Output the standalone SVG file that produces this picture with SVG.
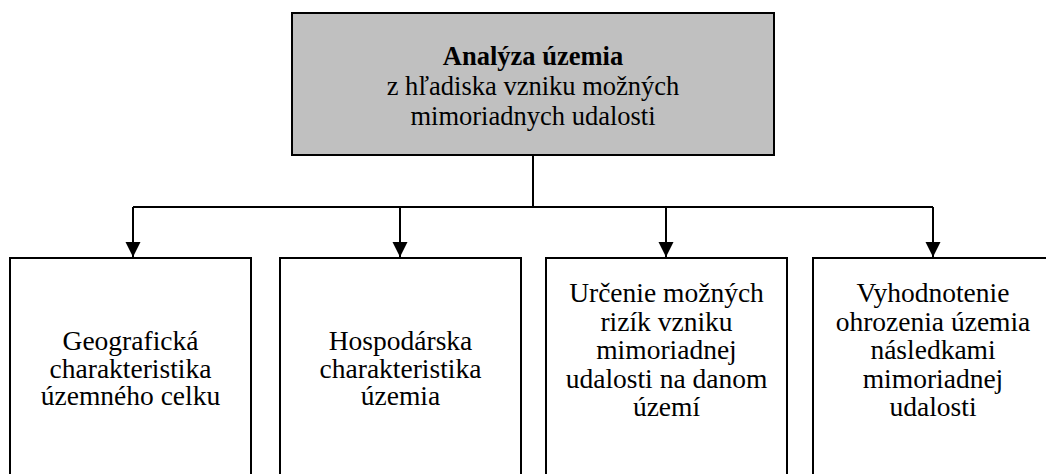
<svg xmlns="http://www.w3.org/2000/svg" width="1046" height="474" viewBox="0 0 1046 474">
<style>
.box{fill:#ffffff;stroke:#000000;stroke-width:2}
.top{fill:#c0c0c0;stroke:#000000;stroke-width:2}
.t{font-family:"Liberation Serif","Times New Roman",serif;font-size:27.5px;fill:#000000;text-anchor:middle}
.tt{font-family:"Liberation Serif","Times New Roman",serif;font-size:26.5px;fill:#000000;text-anchor:middle}
.b{font-weight:bold}
.ln{fill:none;stroke:#000000;stroke-width:2}
</style>
<defs>
<marker id="arr" markerWidth="15" markerHeight="16" refX="15" refY="7.5" orient="auto" markerUnits="userSpaceOnUse" viewBox="0 0 15 15">
<path d="M0,0 L15,7.5 L0,15 Z" fill="#000000"/>
</marker>
</defs>
<rect width="1046" height="474" fill="#ffffff"/>
<g id="connectors">
<path class="ln" d="M533,155 V207"/>
<path class="ln" d="M133,207 H933"/>
<path class="ln" d="M133,207 V257" marker-end="url(#arr)"/>
<path class="ln" d="M400,207 V257" marker-end="url(#arr)"/>
<path class="ln" d="M666,207 V257" marker-end="url(#arr)"/>
<path class="ln" d="M933,207 V257" marker-end="url(#arr)"/>
</g>
<g id="node-root">
<rect class="top" x="292" y="13" width="482" height="142"/>
<text class="tt b" x="533" y="64.5">Analýza územia</text>
<text class="tt" x="533" y="94.5">z hľadiska vzniku možných</text>
<text class="tt" x="533" y="124.5">mimoriadnych udalosti</text>
</g>
<g id="node-geo">
<rect class="box" x="10" y="258" width="241" height="240"/>
<text class="t" x="130.5" y="350">Geografická</text>
<text class="t" x="130.5" y="377.5">charakteristika</text>
<text class="t" x="130.5" y="405">územného celku</text>
</g>
<g id="node-hosp">
<rect class="box" x="280" y="258" width="241" height="240"/>
<text class="t" x="400.5" y="350">Hospodárska</text>
<text class="t" x="400.5" y="377.5">charakteristika</text>
<text class="t" x="400.5" y="405">územia</text>
</g>
<g id="node-riziko">
<rect class="box" x="546" y="258" width="241" height="240"/>
<text class="t" x="666.5" y="302">Určenie možných</text>
<text class="t" x="666.5" y="330.5">rizík vzniku</text>
<text class="t" x="666.5" y="359">mimoriadnej</text>
<text class="t" x="666.5" y="387.5">udalosti na danom</text>
<text class="t" x="666.5" y="416">území</text>
</g>
<g id="node-ohrozenie">
<rect class="box" x="813" y="258" width="241" height="240"/>
<text class="t" x="933" y="302">Vyhodnotenie</text>
<text class="t" x="933" y="330.5">ohrozenia územia</text>
<text class="t" x="933" y="359">následkami</text>
<text class="t" x="933" y="387.5">mimoriadnej</text>
<text class="t" x="933" y="416">udalosti</text>
</g>
</svg>
